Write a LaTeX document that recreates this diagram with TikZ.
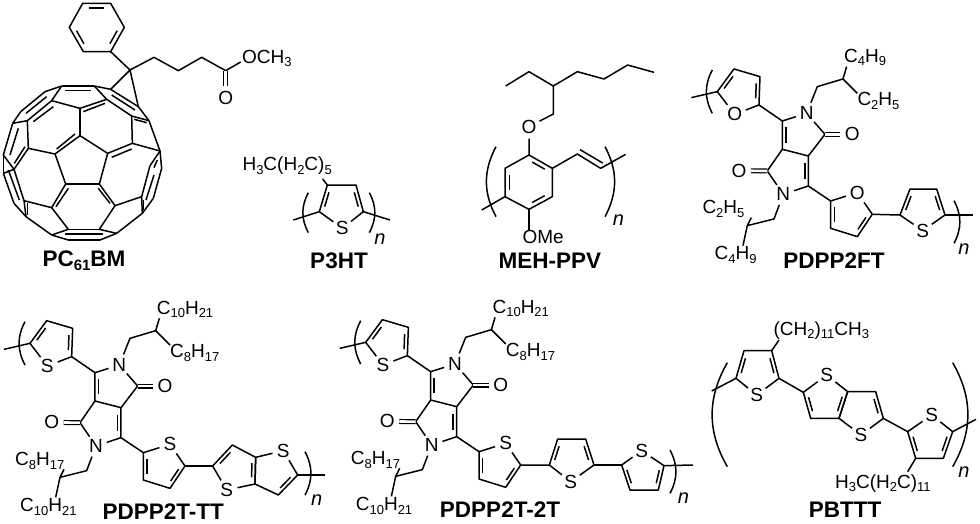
\documentclass[tikz,border=0pt]{standalone}
\usepackage{fontspec}
\setmainfont{Liberation Sans}
\usetikzlibrary{calc}

\tikzset{
    bond/.style={line width=1.5pt, line join=round},
    cobond/.style={bond, double, double distance=2.6pt, line width=1.2pt},
    atom/.style={circle, inner sep=1.2pt, font=\fontsize{19}{20}\selectfont},
    chain/.style={inner sep=0pt, anchor=base west, font=\fontsize{19}{20}\selectfont},
    title/.style={inner sep=0pt, font=\fontsize{22.5}{24}\selectfont\bfseries},
    rep/.style={inner sep=0pt, font=\fontsize{20}{22}\selectfont\itshape},
    zm/.style={x=1pt/3, y=-1pt/3}
}
\newcommand{\sbs}[1]{\raisebox{-3.5pt}{\fontsize{13}{13}\selectfont #1}}
\newcommand{\sbb}[1]{\raisebox{-4pt}{\fontsize{15}{15}\selectfont\bfseries #1}}

% inner line of a double bond, pulled towards a ring centre
\newcommand{\dbl}[3]{\draw[bond] ($(#1)!.17!(#2)!.19!(#3)$) -- ($(#2)!.17!(#1)!.19!(#3)$);}

% five membered ring: prefix, hetero atom, four carbons, hetero position
\newcommand{\ringplain}[7]{
    \coordinate (#1a) at (#3);
    \coordinate (#1b) at (#4);
    \coordinate (#1c) at (#5);
    \coordinate (#1d) at (#6);
    \node[atom] (#1s) at (#7) {#2};
    \coordinate (#1o) at (barycentric cs:#1a=1,#1b=1,#1c=1,#1d=1,#1s=1);
    \draw[bond] (#1s) -- (#1a) -- (#1b) -- (#1c) -- (#1d) -- (#1s);
    \dbl{#1a}{#1b}{#1o}
}
\newcommand{\ringfive}[7]{
    \ringplain{#1}{#2}{#3}{#4}{#5}{#6}{#7}
    \dbl{#1c}{#1d}{#1o}
}
% parentheses, top to bottom
\newcommand{\lbr}[3][28]{\draw[bond] (#2) to[bend right=#1] (#3);}
\newcommand{\rbr}[3][28]{\draw[bond] (#2) to[bend left=#1] (#3);}

% the fused core with its chains and two rings
\newcommand{\dppcore}[6]{
    \ringfive{#1u}{#2}{90,250}{140,182}{218,205}{215,290}{142,318}
    \ringfive{#1v}{#2}{555,618}{510,685}{430,660}{430,578}{510,553}
    \coordinate (#1end) at (12,268);
    \draw[bond] (#1end) -- (#1ua);
    \lbr{75,185}{75,315}
    \coordinate (#1c1) at (285,338);
    \coordinate (#1c2) at (413,378);
    \coordinate (#1c3) at (363,443);
    \coordinate (#1c4) at (285,423);
    \coordinate (#1c5) at (240,488);
    \coordinate (#1c6) at (363,533);
    \node[atom] (#1n1) at (358,315) {N};
    \node[atom] (#1n2) at (288,558) {N};
    \node[atom] (#1o1) at (495,378) {O};
    \node[atom] (#1o2) at (155,487) {O};
    \coordinate (#1p) at (barycentric cs:#1c1=1,#1n1=1,#1c2=1,#1c3=1,#1c4=1);
    \coordinate (#1q) at (barycentric cs:#1c4=1,#1c5=1,#1n2=1,#1c6=1,#1c3=1);
    \draw[bond] (#1c4) -- (#1c1) -- (#1n1) -- (#1c2) -- (#1c3) -- (#1c4) -- (#1c5) -- (#1n2) -- (#1c6) -- (#1c3);
    \dbl{#1c1}{#1c4}{#1p}
    \dbl{#1c6}{#1c3}{#1q}
    \draw[cobond] (#1c2) -- (#1o1);
    \draw[cobond] (#1c5) -- (#1o2);
    \draw[bond] (#1ud) -- (#1c1);
    \draw[bond] (#1c6) -- (#1vd);
    % chains
    \coordinate (#1k1) at (390,235);
    \coordinate (#1k2) at (467,212);
    \coordinate (#1k3) at (260,632);
    \coordinate (#1k4) at (180,652);
    \node[chain] (#1la) at (470,162) {#3};
    \node[chain] (#1lb) at (510,293) {#4};
    \node[chain] (#1lc) at (45,617) {#5};
    \node[chain, anchor=base] (#1ld) at (145,755) {#6};
    \draw[bond] (#1n1) -- (#1k1) -- (#1k2) -- (478,175);
    \draw[bond] (#1k2) -- (510,255);
    \draw[bond] (#1n2) -- (#1k3) -- (#1k4) -- (192,628);
    \draw[bond] (#1k4) -- (167,712);
}

\begin{document}
\begin{tikzpicture}[x=1pt, y=-1pt]
    \useasboundingbox (0,0) rectangle (980,523);

    % fullerene
    \begin{scope}[zm]
        \foreach \n/\p in {t1/{185,258},t2/{283,258},g/{155,302},f/{240,325},h/{320,298},
            a/{240,407},b/{323,460},c/{298,552},d/{197,552},e/{165,462},
            i/{395,348},j/{397,430},k/{480,453},l/{450,497},p/{447,362},
            q1/{332,268},q2/{415,320},r1/{485,505},r2/{460,595},r3/{427,640},r4/{425,590},
            m/{345,617},y/{350,700},o1/{298,688},o2/{205,688},s1/{205,720},s2/{300,720},
            rr/{155,705},qq/{155,623},u/{72,602},v/{78,650},w1/{42,610},w2/{10,520},
            w3/{10,465},w4/{42,508},x1/{85,445},x2/{82,362},x3/{38,370},x4/{62,335},x5/{135,275}}
        {
            \coordinate (\n) at (\p);
        }
        \foreach \s/\t in {t1/t2,t1/g,t2/h,t2/q1,q1/q2,q2/p,h/i,i/p,g/f,f/h,f/a,a/b,b/c,c/d,d/e,e/a,
            b/j,j/i,j/k,p/k,k/r1,k/l,r1/r2,r2/r3,l/r4,r4/r3,r4/m,c/m,m/o1,o1/o2,r3/y,y/s2,s2/s1,s1/rr,
            rr/o2,y/o1,d/qq,qq/o2,qq/u,rr/v,v/u,v/w1,w1/w2,w2/w3,u/w4,w4/w2,w3/w4,w4/x1,x1/e,x1/x2,
            x2/g,x2/x3,x3/w3,x3/x4,x4/x5,x5/t1}
        {
            \draw[bond] (\s) -- (\t);
        }
        \foreach \s/\t in {{195,272}/{272,272},{250,335}/{315,310},{335,285}/{405,330},
            {403,358}/{440,368},{335,472}/{395,447},{170,447}/{225,402},{205,565}/{168,620},
            {295,565}/{330,610},{83,610}/{83,645},{195,702}/{308,702},{462,525}/{438,600},
            {431,600}/{431,630},{25,510}/{58,600},{55,385}/{30,465},{43,490}/{75,440},
            {78,340}/{140,290},{100,365}/{160,320},{472,480}/{462,503}}
        {
            \draw[bond] (\s) -- (\t);
        }
        % phenyl
        \coordinate (ph1) at (248,10);
        \coordinate (ph2) at (332,10);
        \coordinate (ph3) at (373,82);
        \coordinate (ph4) at (332,155);
        \coordinate (ph5) at (250,155);
        \coordinate (ph6) at (208,82);
        \coordinate (pho) at (290,82);
        \draw[bond] (ph1) -- (ph2) -- (ph3) -- (ph4) -- (ph5) -- (ph6) -- cycle;
        \dbl{ph1}{ph2}{pho}
        \dbl{ph3}{ph4}{pho}
        \dbl{ph5}{ph6}{pho}
        % arm with the ester
        \coordinate (cp) at (390,210);
        \coordinate (ar1) at (462,172);
        \coordinate (ar2) at (535,212);
        \coordinate (ar3) at (605,172);
        \coordinate (ar4) at (677,212);
        \node[atom] (arO) at (677,295) {O};
        \node[chain] (och) at (726,190) {OCH\sbs{3}};
        \draw[bond] (ph4) -- (cp) -- (ar1) -- (ar2) -- (ar3) -- (ar4) -- (722,186);
        \draw[bond] (q1) -- (cp) -- (q2);
        \draw[cobond] (ar4) -- (arO);
        \node[title] (pcbm) at (252,782) {PC\sbb{61}BM};
    \end{scope}

    % P3HT
    \begin{scope}[shift={(230,0)}, zm]
        \ringfive{ht}{S}{268,635}{292,555}{378,555}{400,635}{337,685}
        \coordinate (htl) at (190,660);
        \coordinate (htr) at (480,660);
        \draw[bond] (htl) -- (hta);
        \draw[bond] (htd) -- (htr);
        \draw[bond] (htb) -- (278,537);
        \lbr{235,578}{235,698}
        \rbr{418,578}{418,698}
        \node[chain] (htchain) at (37,512) {H\sbs{3}C(H\sbs{2}C)\sbs{5}};
        \node[rep] (htn) at (450,718) {n};
        \node[title] (htname) at (327,782) {P3HT};
    \end{scope}

    % MEH-PPV
    \begin{scope}[shift={(460,0)}, zm]
        \coordinate (me1) at (137,258);
        \coordinate (me2) at (207,215);
        \coordinate (me3) at (280,258);
        \coordinate (me4) at (352,215);
        \coordinate (me5) at (432,237);
        \coordinate (me6) at (503,195);
        \coordinate (me7) at (582,217);
        \coordinate (me8) at (280,342);
        \node[atom] (meO) at (207,380) {O};
        \coordinate (bz1) at (207,465);
        \coordinate (bz2) at (277,505);
        \coordinate (bz3) at (277,590);
        \coordinate (bz4) at (207,628);
        \coordinate (bz5) at (135,590);
        \coordinate (bz6) at (135,505);
        \coordinate (bzo) at (207,547);
        \draw[bond] (me1) -- (me2) -- (me3) -- (me4) -- (me5) -- (me6) -- (me7);
        \draw[bond] (me3) -- (me8) -- (meO) -- (bz1);
        \draw[bond] (bz1) -- (bz2) -- (bz3) -- (bz4) -- (bz5) -- (bz6) -- cycle;
        \dbl{bz1}{bz2}{bzo}
        \dbl{bz3}{bz4}{bzo}
        \dbl{bz5}{bz6}{bzo}
        \coordinate (vi1) at (352,462);
        \coordinate (vi2) at (422,505);
        \coordinate (vi3) at (497,463);
        \coordinate (mel) at (65,630);
        \draw[bond] (bz2) -- (vi1) -- (vi2) -- (vi3);
        \draw[bond] (360,449) -- (428,489);
        \draw[bond] (mel) -- (bz5);
        \node[chain] (meome) at (187,730) {OMe};
        \draw[bond] (bz4) -- (207,690);
        \lbr{108,440}{108,650}
        \rbr{435,440}{435,650}
        \node[rep] (men) at (475,660) {n};
        \node[title] (mename) at (270,782) {MEH-PPV};
    \end{scope}

    % PDPP2FT
    \begin{scope}[shift={(687.3,8.3)}, zm]
        \dppcore{ff}{O}{C\sbs{4}H\sbs{9}}{C\sbs{2}H\sbs{5}}{C\sbs{2}H\sbs{5}}{C\sbs{4}H\sbs{9}}
    \end{scope}
    \begin{scope}[shift={(680,0)}, zm]
        \ringfive{fa}{S}{660,645}{690,567}{770,567}{795,645}{728,692}
        \coordinate (faend) at (878,645);
        \draw[bond] (ffva) -- (faa);
        \draw[bond] (fad) -- (faend);
        \rbr{822,602}{822,730}
        \node[rep] (fan) at (852,748) {n};
        \node[title] (faname) at (462,782) {PDPP2FT};
    \end{scope}

    % PDPP2T-TT
    \begin{scope}[shift={(0,260)}, zm]
        \dppcore{tt}{S}{C\sbs{10}H\sbs{21}}{C\sbs{8}H\sbs{17}}{C\sbs{8}H\sbs{17}}{C\sbs{10}H\sbs{21}}
        \ringfive{ta}{S}{638,618}{697,555}{767,592}{765,672}{680,690}
        \ringplain{tb}{S}{893,645}{835,705}{765,672}{767,592}{850,572}
        \coordinate (tbend) at (975,645);
        \draw[bond] (ttva) -- (taa);
        \draw[bond] (tba) -- (tbend);
        \rbr{915,575}{915,705}
        \node[rep] (tbn) at (950,720) {n};
        \node[title] (ttname) at (490,755) {PDPP2T-TT};
    \end{scope}

    % PDPP2T-2T
    \begin{scope}[shift={(335.7,259)}, zm]
        \dppcore{dt}{S}{C\sbs{10}H\sbs{21}}{C\sbs{8}H\sbs{17}}{C\sbs{8}H\sbs{17}}{C\sbs{10}H\sbs{21}}
    \end{scope}
    \begin{scope}[shift={(340,260)}, zm]
        \ringfive{da}{S}{628,615}{653,537}{737,537}{762,615}{692,665}
        \ringfive{db}{S}{972,617}{955,690}{870,690}{845,615}{905,572}
        \coordinate (dbend) at (1059,615);
        \draw[bond] (dtva) -- (daa);
        \draw[bond] (dad) -- (dbd);
        \draw[bond] (dba) -- (dbend);
        \rbr{990,570}{990,700}
        \node[rep] (dbn) at (1030,715) {n};
        \node[title] (dtname) at (480,750) {PDPP2T-2T};
    \end{scope}

    % PBTTT
    \begin{scope}[shift={(680,260)}, zm]
        \ringfive{ba}{S}{168,355}{192,272}{275,272}{297,355}{230,405}
        \ringfive{bb}{S}{370,397}{392,475}{477,475}{503,395}{440,345}
        \ringplain{bc}{S}{610,475}{587,395}{503,395}{477,475}{543,525}
        \ringfive{bd}{S}{818,515}{790,595}{707,595}{683,515}{755,465}
        \coordinate (bal) at (95,393);
        \coordinate (bar) at (888,478);
        \draw[bond] (bal) -- (baa);
        \draw[bond] (bad) -- (bba);
        \draw[bond] (bca) -- (bdd);
        \draw[bond] (bda) -- (bar);
        \draw[bond] (bac) -- (297,240);
        \draw[bond] (bdc) -- (683,635);
        \lbr[30]{142,308}{142,620}
        \rbr[30]{818,308}{818,620}
        \node[chain] (bachain) at (280,226) {(CH\sbs{2})\sbs{11}CH\sbs{3}};
        \node[chain] (bdchain) at (465,685) {H\sbs{3}C(H\sbs{2}C)\sbs{11}};
        \node[rep] (ban) at (852,635) {n};
        \node[title] (baname) at (495,750) {PBTTT};
    \end{scope}
\end{tikzpicture}
\end{document}
